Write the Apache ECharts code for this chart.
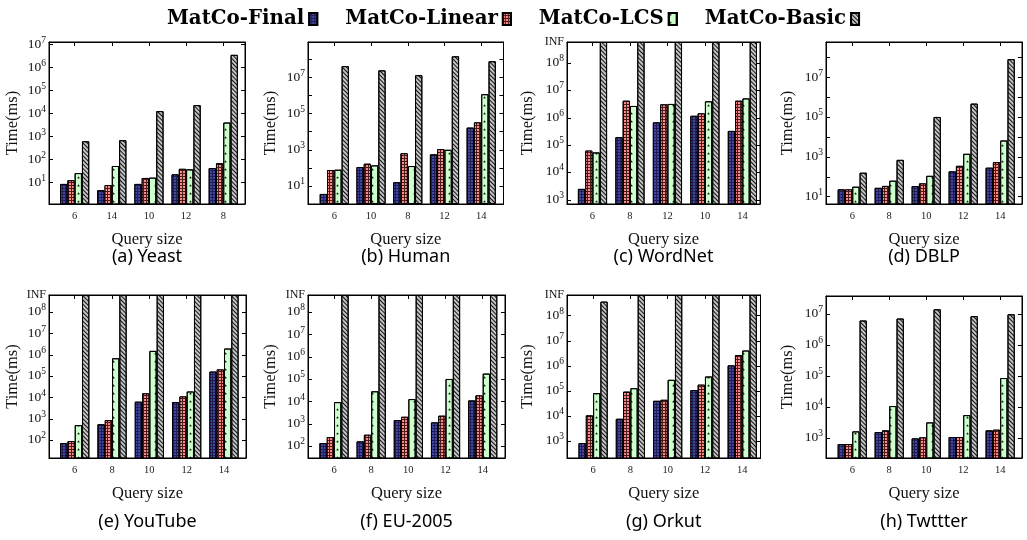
<!DOCTYPE html>
<html><head><meta charset="utf-8">
<script src="https://cdn.jsdelivr.net/npm/echarts@6.0.0/dist/echarts.min.js"></script>
<style>html,body{margin:0;padding:0;background:#fff}#c{width:1027px;height:540px}</style>
</head><body><div id="c"></div>
<script>
// ---------------- data ----------------
const methods = ['MatCo-Final', 'MatCo-Linear', 'MatCo-LCS', 'MatCo-Basic'];
const captions = ['(a) Yeast', '(b) Human', '(c) WordNet', '(d) DBLP', '(e) YouTube', '(f) EU-2005', '(g) Orkut', '(h) Twttter'];
const INF = 'INF';
const queryCats = [
  ['6', '14', '10', '12', '8'],
  ['6', '10', '8', '12', '14'],
  ['6', '8', '12', '10', '14'],
  ['6', '8', '10', '12', '14'],
  ['6', '8', '10', '12', '14'],
  ['6', '8', '10', '12', '14'],
  ['6', '8', '10', '12', '14'],
  ['6', '8', '10', '12', '14']
];
const finalTimes = [
  [8.8, 4.7, 8.8, 23, 43],
  [3.6, 112, 16, 560, 17000],
  [2500, 195000, 680000, 1180000, 330000],
  [23.5, 28, 34.5, 190, 290],
  [75, 575, 6500, 6200, 167000],
  [140, 167, 1500, 1180, 11300],
  [860, 7900, 41000, 110000, 1050000],
  [640, 1560, 975, 1080, 1770]
];
const linearTimes = [
  [12.7, 7.9, 16, 40, 70],
  [76, 170, 650, 1100, 33000],
  [63000, 4200000, 3100000, 1450000, 4200000],
  [23.5, 35, 47, 360, 550],
  [93, 890, 16000, 11500, 210000],
  [260, 330, 2100, 2350, 19000],
  [10800, 95000, 45000, 180000, 2700000],
  [640, 1770, 1050, 1080, 1860]
];
const lcsTimes = [
  [26, 53, 16.5, 38, 4100],
  [79, 138, 126, 1000, 1200000],
  [54000, 2700000, 3200000, 4000000, 5100000],
  [32, 64, 113, 1450, 6800],
  [520, 700000, 1550000, 19500, 2000000],
  [9500, 29000, 13000, 103000, 180000],
  [83000, 130000, 280000, 380000, 4100000],
  [1640, 10800, 3200, 5500, 87000]
];
const basicTimes = [
  [630, 700, 12900, 23500, 3600000],
  [43000000, 25000000, 13500000, 150000000, 80000000],
  [INF, INF, INF, INF, INF],
  [162, 720, 104000, 490000, 85000000],
  [INF, INF, INF, INF, INF],
  [INF, INF, INF, INF, INF],
  [360000000, INF, INF, INF, INF],
  [6300000, 7300000, 14500000, 8700000, 10000000]
];
const allTimes = [finalTimes, linearTimes, lcsTimes, basicTimes];

// ---------------- layout ----------------
const panels = [
  {left: 49, top: 42, width: 196, height: 162, xMin: -0.69, xMax: 4.585, yMin: 1.18, yMax: 1.3e7, odd: false, gap: 28, cy: 257},
  {left: 308, top: 42, width: 195.5, height: 162, xMin: -0.716, xMax: 4.607, yMin: 1, yMax: 9.3e8, odd: true, gap: 29, cy: 257},
  {left: 567, top: 42, width: 193, height: 162, xMin: -0.68, xMax: 4.47, yMin: 700, yMax: 5.9e8, odd: false, inf: true, gap: 31, cy: 257},
  {left: 826, top: 42, width: 196, height: 162, xMin: -0.71, xMax: 4.59, yMin: 4.3, yMax: 6.2e8, odd: true, gap: 30, cy: 257},
  {left: 49, top: 295, width: 197, height: 163, xMin: -0.69, xMax: 4.59, yMin: 15, yMax: 6.4e8, odd: false, inf: true, gap: 28, cy: 522},
  {left: 308, top: 295, width: 197, height: 163, xMin: -0.70, xMax: 4.60, yMin: 30, yMax: 5.9e8, odd: false, inf: true, gap: 29, cy: 522},
  {left: 567, top: 295, width: 193.5, height: 163, xMin: -0.70, xMax: 4.49, yMin: 218, yMax: 6.6e8, odd: false, inf: true, gap: 31, cy: 522},
  {left: 826, top: 296, width: 196, height: 162, xMin: -0.71, xMax: 4.59, yMin: 226, yMax: 3.9e7, odd: false, gap: 30, cy: 522}
];

const SERIF = '"Liberation Serif", "DejaVu Serif", serif';
const STAR = 'path://M50,0 L61,35 L98,35 L68,57 L79,91 L50,70 L21,91 L32,57 L2,35 L39,35 Z';
const barStyles = [
  {color: '#1e1e5a', borderColor: '#000', borderWidth: 1,
   decal: {symbol: 'circle', symbolSize: 0.8, color: '#7c7cff', dashArrayX: [2, 1], dashArrayY: [2, 1], rotation: 0}},
  {color: '#4a1c1c', borderColor: '#000', borderWidth: 1,
   decal: {symbol: 'rect', symbolSize: 1, color: '#ff8a8a', dashArrayX: [2, 1], dashArrayY: [2, 1], rotation: 0}},
  {color: '#ccffcc', borderColor: '#000', borderWidth: 1,
   decal: {symbol: STAR, symbolSize: 1, color: '#000', dashArrayX: [3, 4], dashArrayY: [3, 5], rotation: 0}},
  {color: '#c4c4c4', borderColor: '#000', borderWidth: 1,
   decal: {symbol: 'rect', symbolSize: 1, color: '#111', dashArrayX: [1, 0], dashArrayY: [1, 1.2], rotation: Math.PI / 4}}
];

const idx5 = [0, 1, 2, 3, 4];
const grids = [], xAxes = [], yAxes = [], series = [], graphics = [];

function yFormatter(p) {
  return function (v) {
    if (p.inf && Math.abs(v - p.yMax) / p.yMax < 1e-3) return 'INF';
    const e = Math.log10(v), r = Math.round(e);
    if (Math.abs(e - r) > 1e-6) return '';
    if (v < p.yMin * 0.999 || v > p.yMax * 1.001) return '';
    if (p.odd && r % 2 === 0) return '';
    return '{b|10}{s|' + r + '}';
  };
}

panels.forEach(function (p, i) {
  grids.push({left: p.left, top: p.top, width: p.width, height: p.height, show: true,
    borderColor: '#000', borderWidth: 1, backgroundColor: 'rgba(0,0,0,0)'});
  const cats = queryCats[i];
  xAxes.push({type: 'value', gridIndex: i, position: 'bottom', min: p.xMin, max: p.xMax,
    name: 'Query size', nameLocation: 'middle', nameGap: 27,
    nameTextStyle: {fontFamily: SERIF, fontSize: 16.5, color: '#111'},
    axisLine: {show: true, onZero: false, lineStyle: {color: '#000', width: 1}},
    axisTick: {show: true, inside: true, length: 4, customValues: idx5, lineStyle: {color: '#000'}},
    axisLabel: {show: true, customValues: idx5, margin: 7, fontFamily: SERIF, fontSize: 10.5, color: '#222',
      formatter: function (v) { return cats[Math.round(v)]; }},
    splitLine: {show: false}});
  yAxes.push({type: 'log', logBase: 10, gridIndex: i, position: 'left', min: p.yMin, max: p.yMax,
    name: 'Time(ms)', nameLocation: 'middle', nameGap: p.gap,
    nameTextStyle: {fontFamily: SERIF, fontSize: 16.5, color: '#111'},
    axisLine: {show: true, onZero: false, lineStyle: {color: '#000', width: 1}},
    axisTick: {show: true, inside: true, length: 4, lineStyle: {color: '#000'}},
    axisLabel: {show: true, margin: 3, showMinLabel: true, showMaxLabel: true,
      fontFamily: SERIF, fontSize: 12, color: '#111', formatter: yFormatter(p),
      rich: {
        b: {fontFamily: SERIF, fontSize: 13.5, color: '#111', lineHeight: 13, verticalAlign: 'bottom'},
        s: {fontFamily: SERIF, fontSize: 9.5, color: '#111', lineHeight: 9, padding: [0, 0, 6, 0], verticalAlign: 'bottom'}
      }},
    splitLine: {show: false}});
  graphics.push({type: 'text', x: p.left + p.width / 2, y: p.cy, silent: true,
    style: {text: captions[i], fontFamily: '"Noto Sans", sans-serif', fontSize: 18, fill: '#000',
      align: 'center', verticalAlign: 'middle'}});
  allTimes.forEach(function (times, j) {
    series.push({type: 'bar', name: methods[j], xAxisIndex: i, yAxisIndex: i,
      barWidth: 7.3, barGap: '0%', clip: true, silent: true,
      itemStyle: barStyles[j],
      data: times[i].map(function (v, k) { return [k, v === INF ? p.yMax : v]; })});
  });
});
// mirrored top / right axes (ticks only)
panels.forEach(function (p, i) {
  xAxes.push({type: 'value', gridIndex: i, position: 'top', min: p.xMin, max: p.xMax,
    axisLine: {show: true, onZero: false, lineStyle: {color: '#000'}},
    axisTick: {show: true, inside: true, length: 4, customValues: idx5, lineStyle: {color: '#000'}},
    axisLabel: {show: false}, splitLine: {show: false}});
  yAxes.push({type: 'log', logBase: 10, gridIndex: i, position: 'right', min: p.yMin, max: p.yMax,
    axisLine: {show: true, onZero: false, lineStyle: {color: '#000'}},
    axisTick: {show: true, inside: true, length: 4, lineStyle: {color: '#000'}},
    axisLabel: {show: false}, splitLine: {show: false}});
});

const chart = echarts.init(document.getElementById('c'), null, {renderer: 'canvas'});
chart.setOption({
  animation: false,
  backgroundColor: '#fff',
  legend: {data: methods, top: 4, left: 'center', align: 'right', selectedMode: false,
    itemWidth: 8, itemHeight: 12, itemGap: 27, icon: 'rect',
    textStyle: {fontFamily: '"DejaVu Serif", serif', fontWeight: 'bold', fontSize: 19.8, color: '#000'}},
  grid: grids,
  xAxis: xAxes,
  yAxis: yAxes,
  series: series,
  graphic: graphics
});
</script>
</body></html>
